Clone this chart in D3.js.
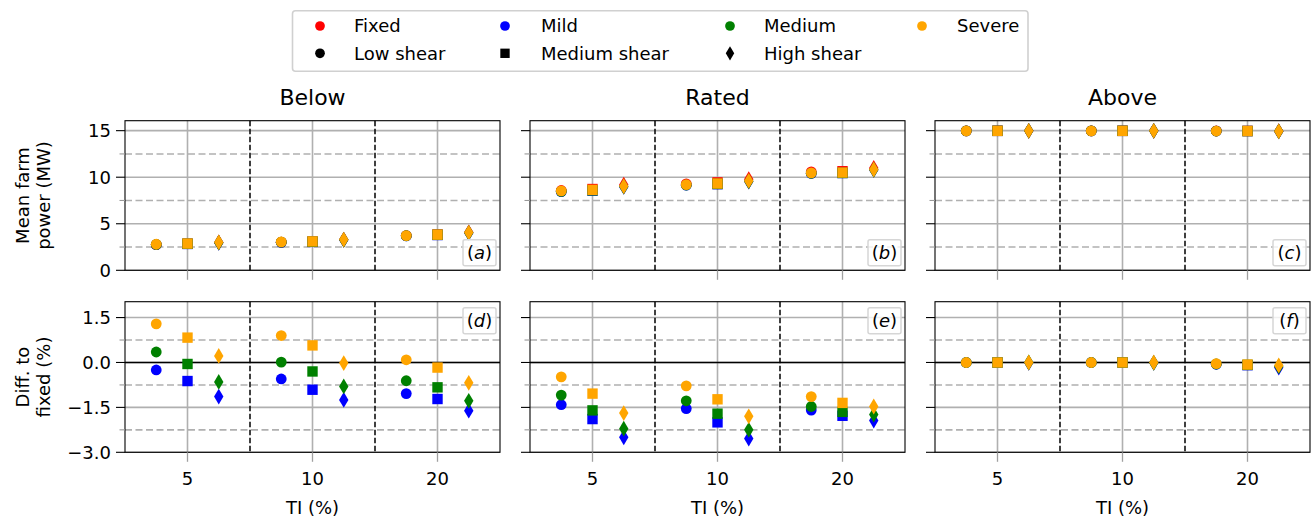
<!DOCTYPE html>
<html>
<head>
<meta charset="utf-8">
<script src="https://cdn.jsdelivr.net/npm/d3@7"></script>
<style>
  html, body { margin: 0; padding: 0; background: #fff; }
  svg { display: block; font-family: "DejaVu Sans", sans-serif; }
</style>
</head>
<body>
<svg id="chart" width="1315" height="520"></svg>
<script>
// ---------------- data ----------------
const regimes = ["Below", "Rated", "Above"];
const tiLabels = ["5", "10", "20"];
const shears = ["Low shear", "Medium shear", "High shear"];
const controls = ["Fixed", "Mild", "Medium", "Severe"];
const panelLettersTop = ["a", "b", "c"];
const panelLettersBottom = ["d", "e", "f"];

// values ordered: TI 5 (low, medium, high shear), TI 10 (...), TI 20 (...)
const powerBelowFixed  = [2.76, 2.85, 2.99, 3.02, 3.08, 3.30, 3.73, 3.84, 4.08];
const powerBelowMild   = [2.75, 2.83, 2.96, 3.00, 3.05, 3.26, 3.69, 3.79, 4.01];
const powerBelowMedium = [2.77, 2.85, 2.97, 3.02, 3.07, 3.27, 3.71, 3.81, 4.03];
const powerBelowSevere = [2.80, 2.87, 3.00, 3.05, 3.10, 3.30, 3.73, 3.83, 4.05];

const powerRatedFixed  = [8.57, 8.73, 9.19, 9.28, 9.44, 9.78, 10.58, 10.64, 10.99];
const powerRatedMild   = [8.45, 8.56, 8.96, 9.14, 9.25, 9.53, 10.41, 10.45, 10.78];
const powerRatedMedium = [8.48, 8.59, 8.99, 9.16, 9.28, 9.56, 10.42, 10.46, 10.80];
const powerRatedSevere = [8.53, 8.64, 9.03, 9.21, 9.32, 9.60, 10.46, 10.50, 10.83];

const powerAboveFixed  = [14.98, 14.98, 14.98, 14.98, 14.98, 14.98, 14.97, 14.97, 14.95];
const powerAboveMild   = [14.98, 14.98, 14.98, 14.98, 14.98, 14.98, 14.96, 14.96, 14.92];
const powerAboveMedium = [14.98, 14.98, 14.98, 14.98, 14.98, 14.98, 14.96, 14.96, 14.93];
const powerAboveSevere = [14.98, 14.98, 14.98, 14.98, 14.98, 14.98, 14.96, 14.96, 14.93];

const diffBelowMild   = [-0.25, -0.62, -1.14, -0.55, -0.91, -1.25, -1.04, -1.22, -1.61];
const diffBelowMedium = [0.35, -0.05, -0.65, 0.01, -0.30, -0.80, -0.61, -0.83, -1.28];
const diffBelowSevere = [1.29, 0.83, 0.22, 0.90, 0.57, -0.02, 0.09, -0.17, -0.68];

const diffRatedMild   = [-1.41, -1.89, -2.50, -1.54, -2.00, -2.54, -1.59, -1.78, -1.94];
const diffRatedMedium = [-1.09, -1.60, -2.21, -1.28, -1.71, -2.25, -1.47, -1.65, -1.74];
const diffRatedSevere = [-0.48, -1.04, -1.69, -0.78, -1.23, -1.80, -1.14, -1.35, -1.47];

const diffAboveMild   = [0.00, 0.00, -0.01, 0.00, 0.00, -0.01, -0.06, -0.09, -0.17];
const diffAboveMedium = [0.00, 0.00, 0.00, 0.00, 0.00, -0.01, -0.05, -0.08, -0.13];
const diffAboveSevere = [0.00, 0.00, 0.00, 0.00, 0.00, 0.00, -0.04, -0.07, -0.10];

const powerTicks = [0, 5, 10, 15];
const powerMinorTicks = [2.5, 7.5, 12.5];
const diffTicks = [-3.0, -1.5, 0.0, 1.5];
const diffMinorTicks = [-2.25, -0.75, 0.75];

// ---------------- assembly ----------------
const powerData = [
  [powerBelowFixed, powerBelowMild, powerBelowMedium, powerBelowSevere],
  [powerRatedFixed, powerRatedMild, powerRatedMedium, powerRatedSevere],
  [powerAboveFixed, powerAboveMild, powerAboveMedium, powerAboveSevere]
];
const diffData = [
  [null, diffBelowMild, diffBelowMedium, diffBelowSevere],
  [null, diffRatedMild, diffRatedMedium, diffRatedSevere],
  [null, diffAboveMild, diffAboveMedium, diffAboveSevere]
];

// ---------------- styles / layout ----------------
const colors = ["#ff0000", "#0000ff", "#008000", "#ffa500"];
const shearOffsets = [-0.25, 0, 0.25];
const FONT = 18;
const gridColor = "#b0b0b0";

const svg = d3.select("#chart");
const panelLefts = [125, 530, 935];
const panelW = 375;
const rows = [
  { top: 120.7, h: 149.6, domain: [0, 16.07], ticks: powerTicks, minor: powerMinorTicks,
    fmt: d => d3.format("d")(d), data: powerData, letters: panelLettersTop, zero: false,
    label: ["Mean farm", "power (MW)"], boxAtBottom: true },
  { top: 301.7, h: 150.6, domain: [-3.0, 2.03], ticks: diffTicks, minor: diffMinorTicks,
    fmt: d => d3.format(".1f")(d).replace("-", "\u2212"), data: diffData, letters: panelLettersBottom, zero: true,
    label: ["Diff. to", "fixed (%)"], boxAtBottom: false }
];

function drawMarker(g, shape, x, y, color, s) {
  const k = s || 1;
  if (shape === 0) {
    g.append("circle").attr("cx", x).attr("cy", y).attr("r", 5.4 * k).attr("fill", color);
  } else if (shape === 1) {
    const a = 10.4 * k;
    g.append("rect").attr("x", x - a / 2).attr("y", y - a / 2).attr("width", a).attr("height", a).attr("fill", color);
  } else {
    const hw = 4.7 * k, hh = 7.9 * k;
    g.append("path")
      .attr("d", `M${x},${y - hh}L${x + hw},${y}L${x},${y + hh}L${x - hw},${y}Z`)
      .attr("fill", color);
  }
}

rows.forEach((row, ri) => {
  const y = d3.scaleLinear().domain(row.domain).range([row.top + row.h, row.top]);

  // y label
  const midY = row.top + row.h / 2;
  const lab = svg.append("text")
    .attr("transform", `translate(29,${midY}) rotate(-90)`)
    .attr("text-anchor", "middle")
    .attr("font-size", FONT);
  lab.append("tspan").attr("x", 0).attr("dy", 0).text(row.label[0]);
  lab.append("tspan").attr("x", 0).attr("dy", 21).text(row.label[1]);

  regimes.forEach((reg, pi) => {
    const left = panelLefts[pi];
    const x = d3.scaleLinear().domain([-0.5, 2.5]).range([left, left + panelW]);
    const g = svg.append("g");

    // minor horizontal grid (dashed)
    row.minor.forEach(v => {
      g.append("line").attr("x1", left).attr("x2", left + panelW)
        .attr("y1", y(v)).attr("y2", y(v))
        .attr("stroke", gridColor).attr("stroke-width", 1.6).attr("stroke-dasharray", "7,3.5");
    });
    // major horizontal grid
    row.ticks.forEach(v => {
      g.append("line").attr("x1", left).attr("x2", left + panelW)
        .attr("y1", y(v)).attr("y2", y(v))
        .attr("stroke", gridColor).attr("stroke-width", 1.6);
    });
    // vertical grid at categories
    tiLabels.forEach((t, i) => {
      g.append("line").attr("x1", x(i)).attr("x2", x(i))
        .attr("y1", row.top).attr("y2", row.top + row.h)
        .attr("stroke", gridColor).attr("stroke-width", 1.6);
    });
    // category separators
    [0.5, 1.5].forEach(v => {
      g.append("line").attr("x1", x(v)).attr("x2", x(v))
        .attr("y1", row.top).attr("y2", row.top + row.h)
        .attr("stroke", "#000").attr("stroke-width", 1.5).attr("stroke-dasharray", "5.5,2.5");
    });
    if (row.zero) {
      g.append("line").attr("x1", left).attr("x2", left + panelW)
        .attr("y1", y(0)).attr("y2", y(0))
        .attr("stroke", "#000").attr("stroke-width", 1.7);
    }

    // markers
    const series = row.data[pi];
    controls.forEach((c, ci) => {
      const vals = series[ci];
      if (!vals) return;
      tiLabels.forEach((t, ti) => {
        shears.forEach((s, si) => {
          const v = vals[ti * 3 + si];
          drawMarker(g, si, x(ti + shearOffsets[si]), y(v), colors[ci]);
        });
      });
    });

    // spines
    g.append("rect").attr("x", left).attr("y", row.top).attr("width", panelW).attr("height", row.h)
      .attr("fill", "none").attr("stroke", "#000").attr("stroke-width", 1.1);

    // y ticks
    row.ticks.forEach(v => {
      g.append("line").attr("x1", left - 9).attr("x2", left).attr("y1", y(v)).attr("y2", y(v))
        .attr("stroke", "#000").attr("stroke-width", 1.1);
    });
    row.minor.forEach(v => {
      g.append("line").attr("x1", left - 5.5).attr("x2", left).attr("y1", y(v)).attr("y2", y(v))
        .attr("stroke", "#999").attr("stroke-width", 1.1);
    });
    if (pi === 0) {
      row.ticks.forEach(v => {
        g.append("text").attr("x", left - 14).attr("y", y(v)).attr("dy", "0.35em")
          .attr("text-anchor", "end").attr("font-size", FONT).text(row.fmt(v));
      });
    }
    // x ticks
    tiLabels.forEach((t, i) => {
      g.append("line").attr("x1", x(i)).attr("x2", x(i))
        .attr("y1", row.top + row.h).attr("y2", row.top + row.h + 9.5)
        .attr("stroke", "#a0a0a0").attr("stroke-width", 1.3);
      if (ri === 1) {
        g.append("text").attr("x", x(i)).attr("y", row.top + row.h + 33)
          .attr("text-anchor", "middle").attr("font-size", FONT).text(t);
      }
    });
    if (ri === 1) {
      g.append("text").attr("x", left + panelW / 2).attr("y", 514)
        .attr("text-anchor", "middle").attr("font-size", FONT).text("TI (%)");
    }
    if (ri === 0) {
      g.append("text").attr("x", left + panelW / 2).attr("y", 105)
        .attr("text-anchor", "middle").attr("font-size", 22).text(reg);
    }

    // panel letter box
    const bw = 33, bh = 26;
    const bx = left + panelW - bw - 4;
    const by = row.boxAtBottom ? row.top + row.h - bh - 4.5 : row.top + 6;
    g.append("rect").attr("x", bx).attr("y", by).attr("width", bw).attr("height", bh)
      .attr("rx", 2).attr("fill", "#fff").attr("fill-opacity", 0.8)
      .attr("stroke", "#d6d6d6").attr("stroke-width", 1.5);
    const lt = g.append("text").attr("x", bx + bw / 2).attr("y", by + bh / 2).attr("dy", "0.36em")
      .attr("text-anchor", "middle").attr("font-size", FONT);
    lt.append("tspan").text("(");
    lt.append("tspan").attr("font-style", "italic").text(row.letters[pi]);
    lt.append("tspan").text(")");
  });
});

// ---------------- legend ----------------
const leg = svg.append("g");
leg.append("rect").attr("x", 292.5).attr("y", 10.7).attr("width", 735.5).attr("height", 60.5)
  .attr("rx", 3).attr("fill", "#fff").attr("stroke", "#d0d0d0").attr("stroke-width", 1.6);
const colMarkerX = [320, 505, 730, 922];
const colTextX = [354, 541, 764, 957];
const rowY = [26, 53.3];
controls.forEach((c, i) => {
  drawMarker(leg, 0, colMarkerX[i], rowY[0], colors[i], 0.9);
  leg.append("text").attr("x", colTextX[i]).attr("y", rowY[0]).attr("dy", "0.36em")
    .attr("font-size", FONT).text(c);
});
shears.forEach((s, i) => {
  drawMarker(leg, i, colMarkerX[i], rowY[1], "#000", 0.9);
  leg.append("text").attr("x", colTextX[i]).attr("y", rowY[1]).attr("dy", "0.36em")
    .attr("font-size", FONT).text(s);
});
</script>
</body>
</html>
